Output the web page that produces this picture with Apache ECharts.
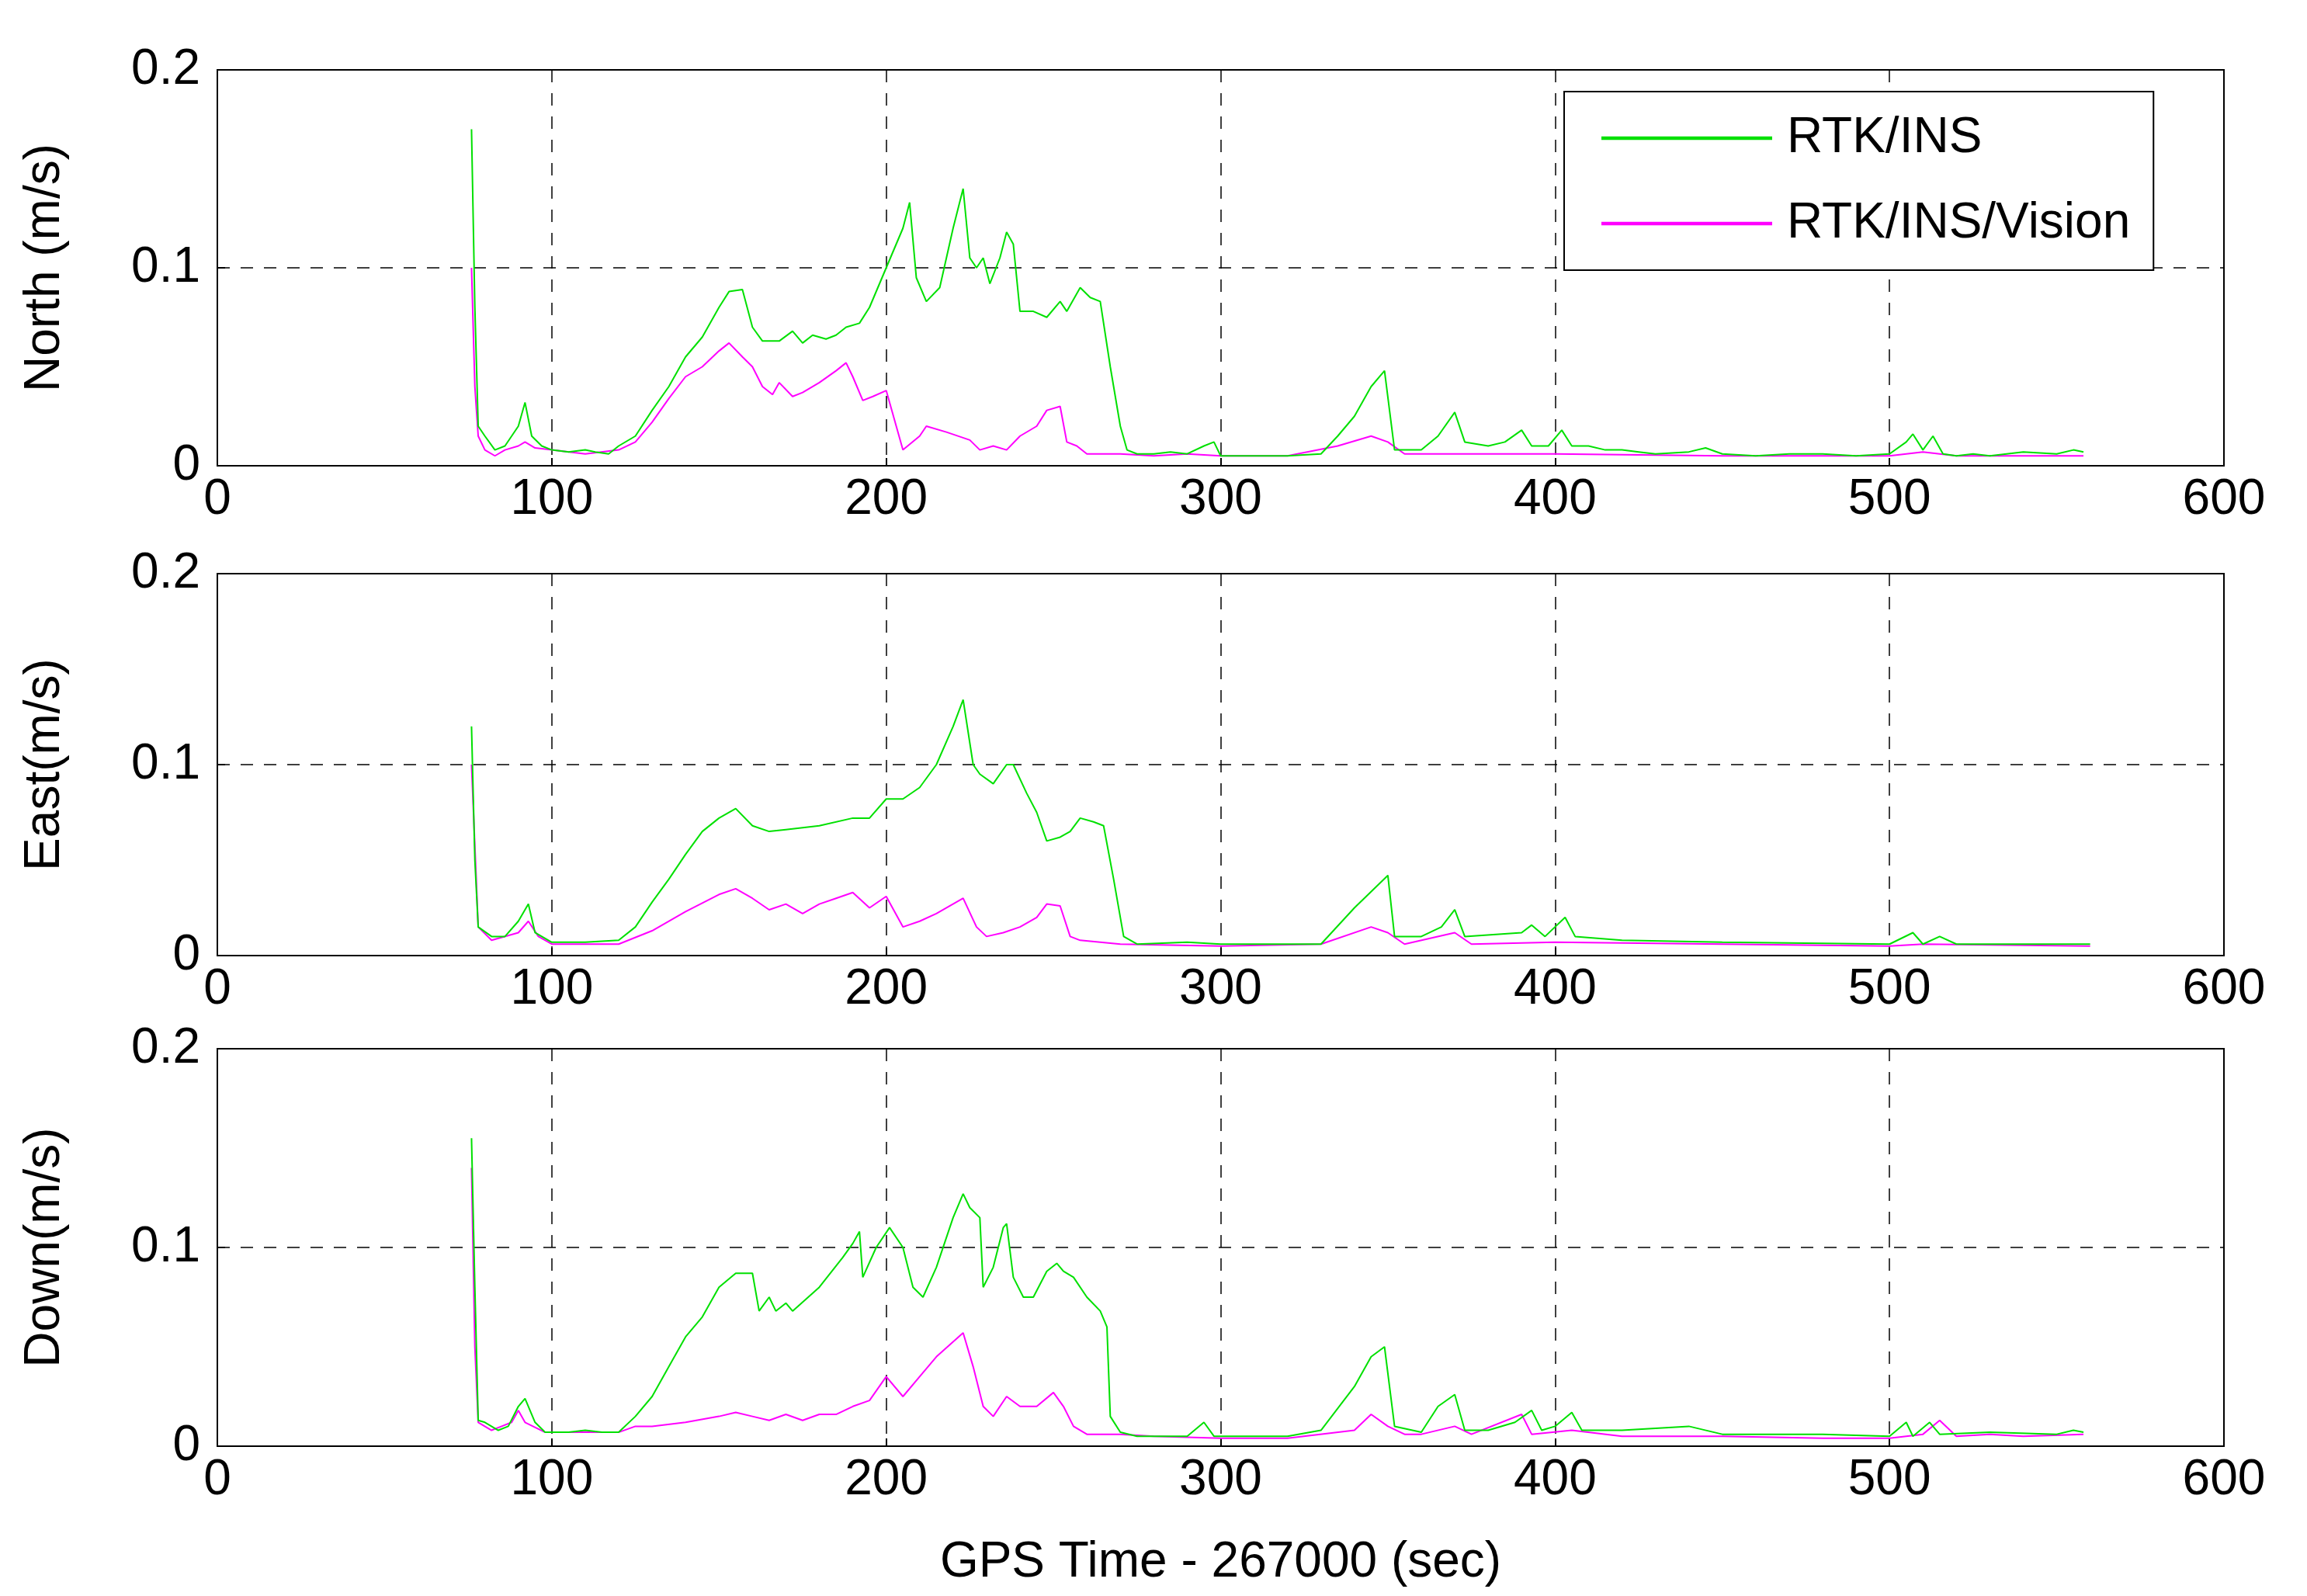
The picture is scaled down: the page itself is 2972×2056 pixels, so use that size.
<!DOCTYPE html>
<html>
<head>
<meta charset="utf-8">
<script src="https://cdn.jsdelivr.net/npm/echarts@6/dist/echarts.min.js"></script>
<style>html,body{margin:0;padding:0;background:#fff}#chart{width:2972px;height:2056px}</style>
</head>
<body>
<div id="chart"></div>
<script>
var xTicks = [0, 100, 200, 300, 400, 500, 600],
    yTicks = [0, 0.1, 0.2],
    panelNames = ['North (m/s)', 'East(m/s)', 'Down(m/s)'],
    seriesNames = ['RTK/INS', 'RTK/INS/Vision'];

var northIns = [[76,0.17],[77,0.08],[78,0.02],[80,0.015],[83,0.008],[86,0.01],[90,0.02],[92,0.032],[94,0.015],[97,0.01],[100,0.008],[105,0.007],[110,0.008],[113,0.007],[117,0.006],[120,0.01],[125,0.015],[130,0.028],[135,0.04],[140,0.055],[145,0.065],[150,0.08],[153,0.088],[157,0.089],[160,0.07],[163,0.063],[168,0.063],[172,0.068],[175,0.062],[178,0.066],[182,0.064],[185,0.066],[188,0.07],[192,0.072],[195,0.08],[200,0.1],[205,0.12],[207,0.133],[209,0.095],[212,0.083],[216,0.09],[220,0.12],[223,0.14],[225,0.105],[227,0.1],[229,0.105],[231,0.092],[234,0.105],[236,0.118],[238,0.112],[240,0.078],[244,0.078],[248,0.075],[252,0.083],[254,0.078],[258,0.09],[261,0.085],[264,0.083],[267,0.05],[270,0.02],[272,0.008],[275,0.006],[280,0.006],[285,0.007],[290,0.006],[295,0.01],[298,0.012],[300,0.005],[310,0.005],[320,0.005],[330,0.006],[335,0.015],[340,0.025],[345,0.04],[349,0.048],[352,0.008],[360,0.008],[365,0.015],[370,0.027],[373,0.012],[380,0.01],[385,0.012],[390,0.018],[393,0.01],[398,0.01],[402,0.018],[405,0.01],[410,0.01],[415,0.008],[420,0.008],[425,0.007],[430,0.006],[440,0.007],[445,0.009],[450,0.006],[460,0.005],[470,0.006],[480,0.006],[490,0.005],[500,0.006],[505,0.012],[507,0.016],[510,0.008],[513,0.015],[516,0.006],[520,0.005],[525,0.006],[530,0.005],[540,0.007],[550,0.006],[555,0.008],[558,0.007]];
var northVis = [[76,0.1],[77,0.04],[78,0.015],[80,0.008],[83,0.005],[86,0.008],[90,0.01],[92,0.012],[95,0.009],[100,0.008],[110,0.006],[120,0.008],[125,0.012],[130,0.022],[135,0.034],[140,0.045],[145,0.05],[150,0.058],[153,0.062],[157,0.055],[160,0.05],[163,0.04],[166,0.036],[168,0.042],[172,0.035],[175,0.037],[180,0.042],[185,0.048],[188,0.052],[190,0.045],[193,0.033],[196,0.035],[200,0.038],[203,0.02],[205,0.008],[210,0.015],[212,0.02],[218,0.017],[225,0.013],[228,0.008],[232,0.01],[236,0.008],[240,0.015],[245,0.02],[248,0.028],[252,0.03],[254,0.012],[257,0.01],[260,0.006],[270,0.006],[280,0.005],[290,0.006],[300,0.005],[320,0.005],[335,0.01],[345,0.015],[350,0.012],[355,0.006],[400,0.006],[450,0.005],[500,0.005],[510,0.007],[520,0.005],[540,0.005],[558,0.005]];
var eastIns = [[76,0.12],[77,0.05],[78,0.015],[82,0.01],[86,0.01],[90,0.018],[93,0.027],[95,0.012],[100,0.007],[110,0.007],[120,0.008],[125,0.015],[130,0.028],[135,0.04],[140,0.053],[145,0.065],[150,0.072],[155,0.077],[160,0.068],[165,0.065],[170,0.066],[180,0.068],[190,0.072],[195,0.072],[200,0.082],[205,0.082],[210,0.088],[215,0.1],[220,0.12],[223,0.134],[226,0.1],[228,0.095],[232,0.09],[236,0.1],[238,0.1],[242,0.085],[245,0.075],[248,0.06],[252,0.062],[255,0.065],[258,0.072],[262,0.07],[265,0.068],[268,0.04],[271,0.01],[275,0.006],[290,0.007],[300,0.006],[320,0.006],[330,0.006],[340,0.025],[350,0.042],[352,0.01],[360,0.01],[366,0.015],[370,0.024],[373,0.01],[390,0.012],[393,0.016],[397,0.01],[403,0.02],[406,0.01],[420,0.008],[450,0.007],[500,0.006],[507,0.012],[510,0.006],[515,0.01],[520,0.006],[560,0.006]];
var eastVis = [[76,0.1],[78,0.015],[82,0.008],[90,0.012],[93,0.018],[96,0.01],[100,0.006],[120,0.006],[130,0.013],[140,0.023],[150,0.032],[155,0.035],[160,0.03],[165,0.024],[170,0.027],[175,0.022],[180,0.027],[185,0.03],[190,0.033],[195,0.025],[200,0.031],[205,0.015],[210,0.018],[215,0.022],[223,0.03],[227,0.015],[230,0.01],[235,0.012],[240,0.015],[245,0.02],[248,0.027],[252,0.026],[255,0.01],[258,0.008],[270,0.006],[300,0.005],[330,0.006],[345,0.015],[350,0.012],[355,0.006],[370,0.012],[375,0.006],[400,0.007],[450,0.006],[500,0.005],[510,0.006],[560,0.005]];
var downIns = [[76,0.155],[77,0.08],[78,0.013],[80,0.012],[84,0.008],[87,0.01],[90,0.02],[92,0.024],[95,0.012],[98,0.007],[105,0.007],[110,0.008],[115,0.007],[120,0.007],[125,0.015],[130,0.025],[135,0.04],[140,0.055],[145,0.065],[150,0.08],[155,0.087],[160,0.087],[162,0.068],[165,0.075],[167,0.068],[170,0.072],[172,0.068],[180,0.08],[187,0.095],[190,0.102],[192,0.108],[193,0.085],[197,0.1],[201,0.11],[205,0.1],[208,0.08],[211,0.075],[215,0.09],[220,0.115],[223,0.127],[225,0.12],[228,0.115],[229,0.08],[232,0.09],[235,0.11],[236,0.112],[238,0.085],[241,0.075],[244,0.075],[248,0.088],[251,0.092],[253,0.088],[256,0.085],[260,0.075],[264,0.068],[266,0.06],[267,0.015],[270,0.007],[275,0.005],[290,0.005],[295,0.012],[298,0.005],[320,0.005],[330,0.008],[340,0.03],[345,0.045],[349,0.05],[352,0.01],[360,0.007],[365,0.02],[370,0.026],[373,0.008],[380,0.008],[388,0.012],[393,0.018],[396,0.008],[400,0.01],[405,0.017],[408,0.008],[420,0.008],[440,0.01],[450,0.006],[480,0.006],[500,0.005],[505,0.012],[507,0.005],[512,0.012],[515,0.006],[530,0.007],[550,0.006],[555,0.008],[558,0.007]];
var downVis = [[76,0.14],[77,0.05],[78,0.012],[82,0.008],[85,0.01],[88,0.012],[90,0.018],[92,0.012],[98,0.007],[120,0.007],[125,0.01],[130,0.01],[140,0.012],[150,0.015],[155,0.017],[160,0.015],[165,0.013],[170,0.016],[175,0.013],[180,0.016],[185,0.016],[190,0.02],[195,0.023],[200,0.035],[205,0.025],[210,0.035],[215,0.045],[223,0.057],[226,0.04],[229,0.02],[232,0.015],[236,0.025],[240,0.02],[245,0.02],[250,0.027],[253,0.02],[256,0.01],[260,0.006],[270,0.006],[280,0.005],[300,0.004],[320,0.004],[340,0.008],[345,0.016],[350,0.01],[355,0.006],[360,0.006],[370,0.01],[375,0.006],[390,0.016],[393,0.006],[405,0.008],[420,0.005],[450,0.005],[480,0.004],[500,0.004],[510,0.006],[515,0.013],[520,0.005],[530,0.006],[540,0.005],[558,0.006]];

var panelData = [[northIns, northVis], [eastIns, eastVis], [downIns, downVis]],
    colors = ['#00e000', '#ff00ff'],
    font = 'Liberation Sans, Arial, sans-serif',
    grids = [
        { left: 280, width: 2585, top: 90, height: 510 },
        { left: 280, width: 2585, top: 739, height: 492 },
        { left: 280, width: 2585, top: 1351, height: 512 }
    ];

var xAxes = [], yAxes = [], series = [];
grids.forEach(function (g, i) {
    g.show = true;
    g.borderColor = '#000';
    g.borderWidth = 2;
    xAxes.push({
        gridIndex: i, type: 'value', min: 0, max: 600, interval: 100,
        name: i === 2 ? 'GPS Time - 267000 (sec)' : '',
        nameLocation: 'middle', nameGap: 118,
        nameTextStyle: { fontSize: 64, color: '#000', fontFamily: font },
        axisLine: { lineStyle: { color: '#000', width: 2 } },
        axisTick: { inside: true, length: 10, lineStyle: { color: '#000', width: 2 } },
        axisLabel: { fontSize: 64, color: '#000', fontFamily: font, margin: 12,
            formatter: function (v) { return xTicks.indexOf(v) >= 0 ? String(v) : ''; } },
        splitLine: { show: true, lineStyle: { color: '#000', type: [16, 14], width: 1.5 } }
    });
    yAxes.push({
        gridIndex: i, type: 'value', min: 0, max: 0.2, interval: 0.1,
        name: panelNames[i], nameLocation: 'middle', nameGap: 190,
        nameTextStyle: { fontSize: 64, color: '#000', fontFamily: font },
        axisLine: { lineStyle: { color: '#000', width: 2 } },
        axisTick: { inside: true, length: 10, lineStyle: { color: '#000', width: 2 } },
        axisLabel: { fontSize: 64, color: '#000', fontFamily: font, margin: 22,
            formatter: function (v) { var k = Math.round(v * 10) / 10; return yTicks.indexOf(k) >= 0 ? String(k) : ''; } },
        splitLine: { show: true, lineStyle: { color: '#000', type: [16, 14], width: 1.5 } }
    });
    panelData[i].forEach(function (d, j) {
        series.push({
            name: seriesNames[j], type: 'line', xAxisIndex: i, yAxisIndex: i,
            data: d, symbol: 'none', animation: false,
            lineStyle: { color: colors[j], width: 2 }, itemStyle: { color: colors[j] },
            z: 3 - j
        });
    });
});

var chart = echarts.init(document.getElementById('chart'));
chart.setOption({
    backgroundColor: '#fff',
    grid: grids,
    xAxis: xAxes,
    yAxis: yAxes,
    legend: {
        data: seriesNames, orient: 'vertical', left: 2015, top: 118,
        backgroundColor: '#fff', borderColor: '#000', borderWidth: 2,
        padding: [28, 30, 28, 48],
        itemWidth: 220, itemHeight: 60, itemGap: 46,
        icon: 'path://M0,49L100,49L100,51L0,51Z',
        textStyle: { fontSize: 64, color: '#000', fontFamily: font, padding: [0, 0, 0, 14] }
    },
    series: series
});
</script>
</body>
</html>
